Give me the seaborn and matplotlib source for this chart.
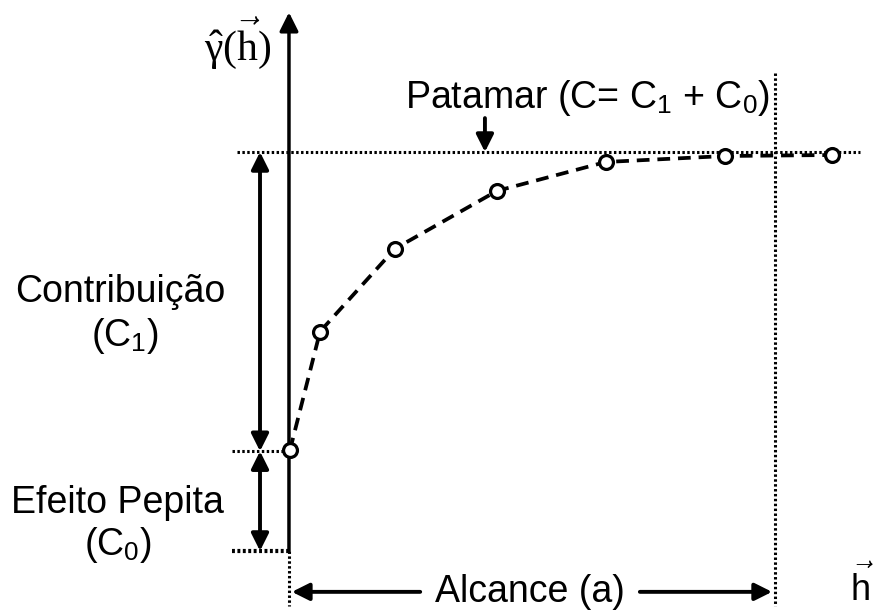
import numpy as np
import pandas as pd
import seaborn as sns
import matplotlib
matplotlib.use("Agg")
import matplotlib.pyplot as plt

# experimental variogram points (lag h, semivariance gamma)
h_vals = [0.01, 0.32, 1.09, 2.14, 3.26, 4.49, 5.59]
gamma_vals = [1.01, 2.20, 3.03, 3.61, 3.90, 3.96, 3.97]

C0 = 1.0      # efeito pepita
C1 = 3.0      # contribuicao
a_range = 5.0  # alcance
sill = C0 + C1

sns.set_theme(style="white")
plt.rcParams["font.family"] = ["Liberation Sans", "DejaVu Sans"]
plt.rcParams["text.color"] = "black"
plt.rcParams["mathtext.fontset"] = "custom"
plt.rcParams["mathtext.rm"] = "Liberation Serif"
plt.rcParams["mathtext.it"] = "Liberation Serif:italic"
plt.rcParams["mathtext.sf"] = "Liberation Sans"

fig = plt.figure(figsize=(8.85, 6.14), dpi=100)
ax = fig.add_axes([0, 0, 1, 1])
ax.set_xlim(-2.973, 6.132)
ax.set_ylim(-0.632, 5.524)
ax.axis("off")

df = pd.DataFrame({"h": h_vals, "gamma": gamma_vals})
sns.lineplot(data=df, x="h", y="gamma", ax=ax, sort=False, color="black",
             linewidth=2.7, linestyle=(0, (3.4, 2.1)), marker="o", markersize=10,
             markerfacecolor="white", markeredgecolor="black",
             markeredgewidth=2.3, zorder=5)

# axes with arrows
ax.annotate("", xy=(0, 5.40), xytext=(0, 0),
            arrowprops=dict(arrowstyle="-|>", lw=2.5, color="black",
                            mutation_scale=28, shrinkA=0, shrinkB=0))
ax.annotate("", xy=(6.14, 0), xytext=(0, 0),
            arrowprops=dict(arrowstyle="-|>", lw=2.5, color="black",
                            mutation_scale=28, shrinkA=0, shrinkB=0))

dot = dict(color="black", linestyle=(0, (0.8, 0.8)), lw=2.2)
ax.plot([-0.535, 5.87], [sill, sill], **dot)
ax.plot([-0.586, 0], [C0, C0], **dot)
ax.plot([-0.586, 0], [0, 0], lw=3.0, color="black", linestyle=(0, (0.7, 0.6)))
ax.plot([0, 0], [0, -0.55], **dot)
ax.plot([a_range, a_range], [4.79, -0.55], **dot)

# double arrows for C1 and C0
dbl = dict(arrowstyle="<|-|>", lw=2.8, color="black", mutation_scale=26,
           shrinkA=0, shrinkB=0)
ax.annotate("", xy=(-0.298, sill), xytext=(-0.298, C0), arrowprops=dbl)
ax.annotate("", xy=(-0.298, C0), xytext=(-0.298, 0), arrowprops=dbl)

# alcance arrows
one = dict(arrowstyle="-|>", lw=2.8, color="black", mutation_scale=26,
           shrinkA=0, shrinkB=0)
ax.annotate("", xy=(0.03, -0.41), xytext=(1.35, -0.41), arrowprops=one)
ax.annotate("", xy=(4.97, -0.41), xytext=(3.61, -0.41), arrowprops=one)
ax.text(2.48, -0.41, "Alcance (a)", fontsize=27, ha="center", va="center")

# patamar
ax.annotate("", xy=(2.016, sill), xytext=(2.016, 4.34), arrowprops=one)
ax.text(3.066, 4.54, r"Patamar (C= C$_\mathsf{1}$ + C$_\mathsf{0}$)",
        fontsize=27, ha="center", va="center")

ax.text(-1.74, 2.60, "Contribuição", fontsize=27, ha="center", va="center")
ax.text(-1.69, 2.16, r"(C$_\mathsf{1}$)", fontsize=27, ha="center", va="center")
ax.text(-1.76, 0.48, "Efeito Pepita", fontsize=27, ha="center", va="center")
ax.text(-1.76, 0.06, r"(C$_\mathsf{0}$)", fontsize=27, ha="center", va="center")

ax.text(-0.525, 5.09, r"$\hat{\mathrm{\gamma}}(\vec{\mathrm{h}})$",
        fontsize=30, ha="center", va="center")
ax.text(5.895, -0.37, r"$\vec{\mathsf{h}}$", fontsize=26, ha="center", va="center")

fig.savefig("out.png", dpi=100)
